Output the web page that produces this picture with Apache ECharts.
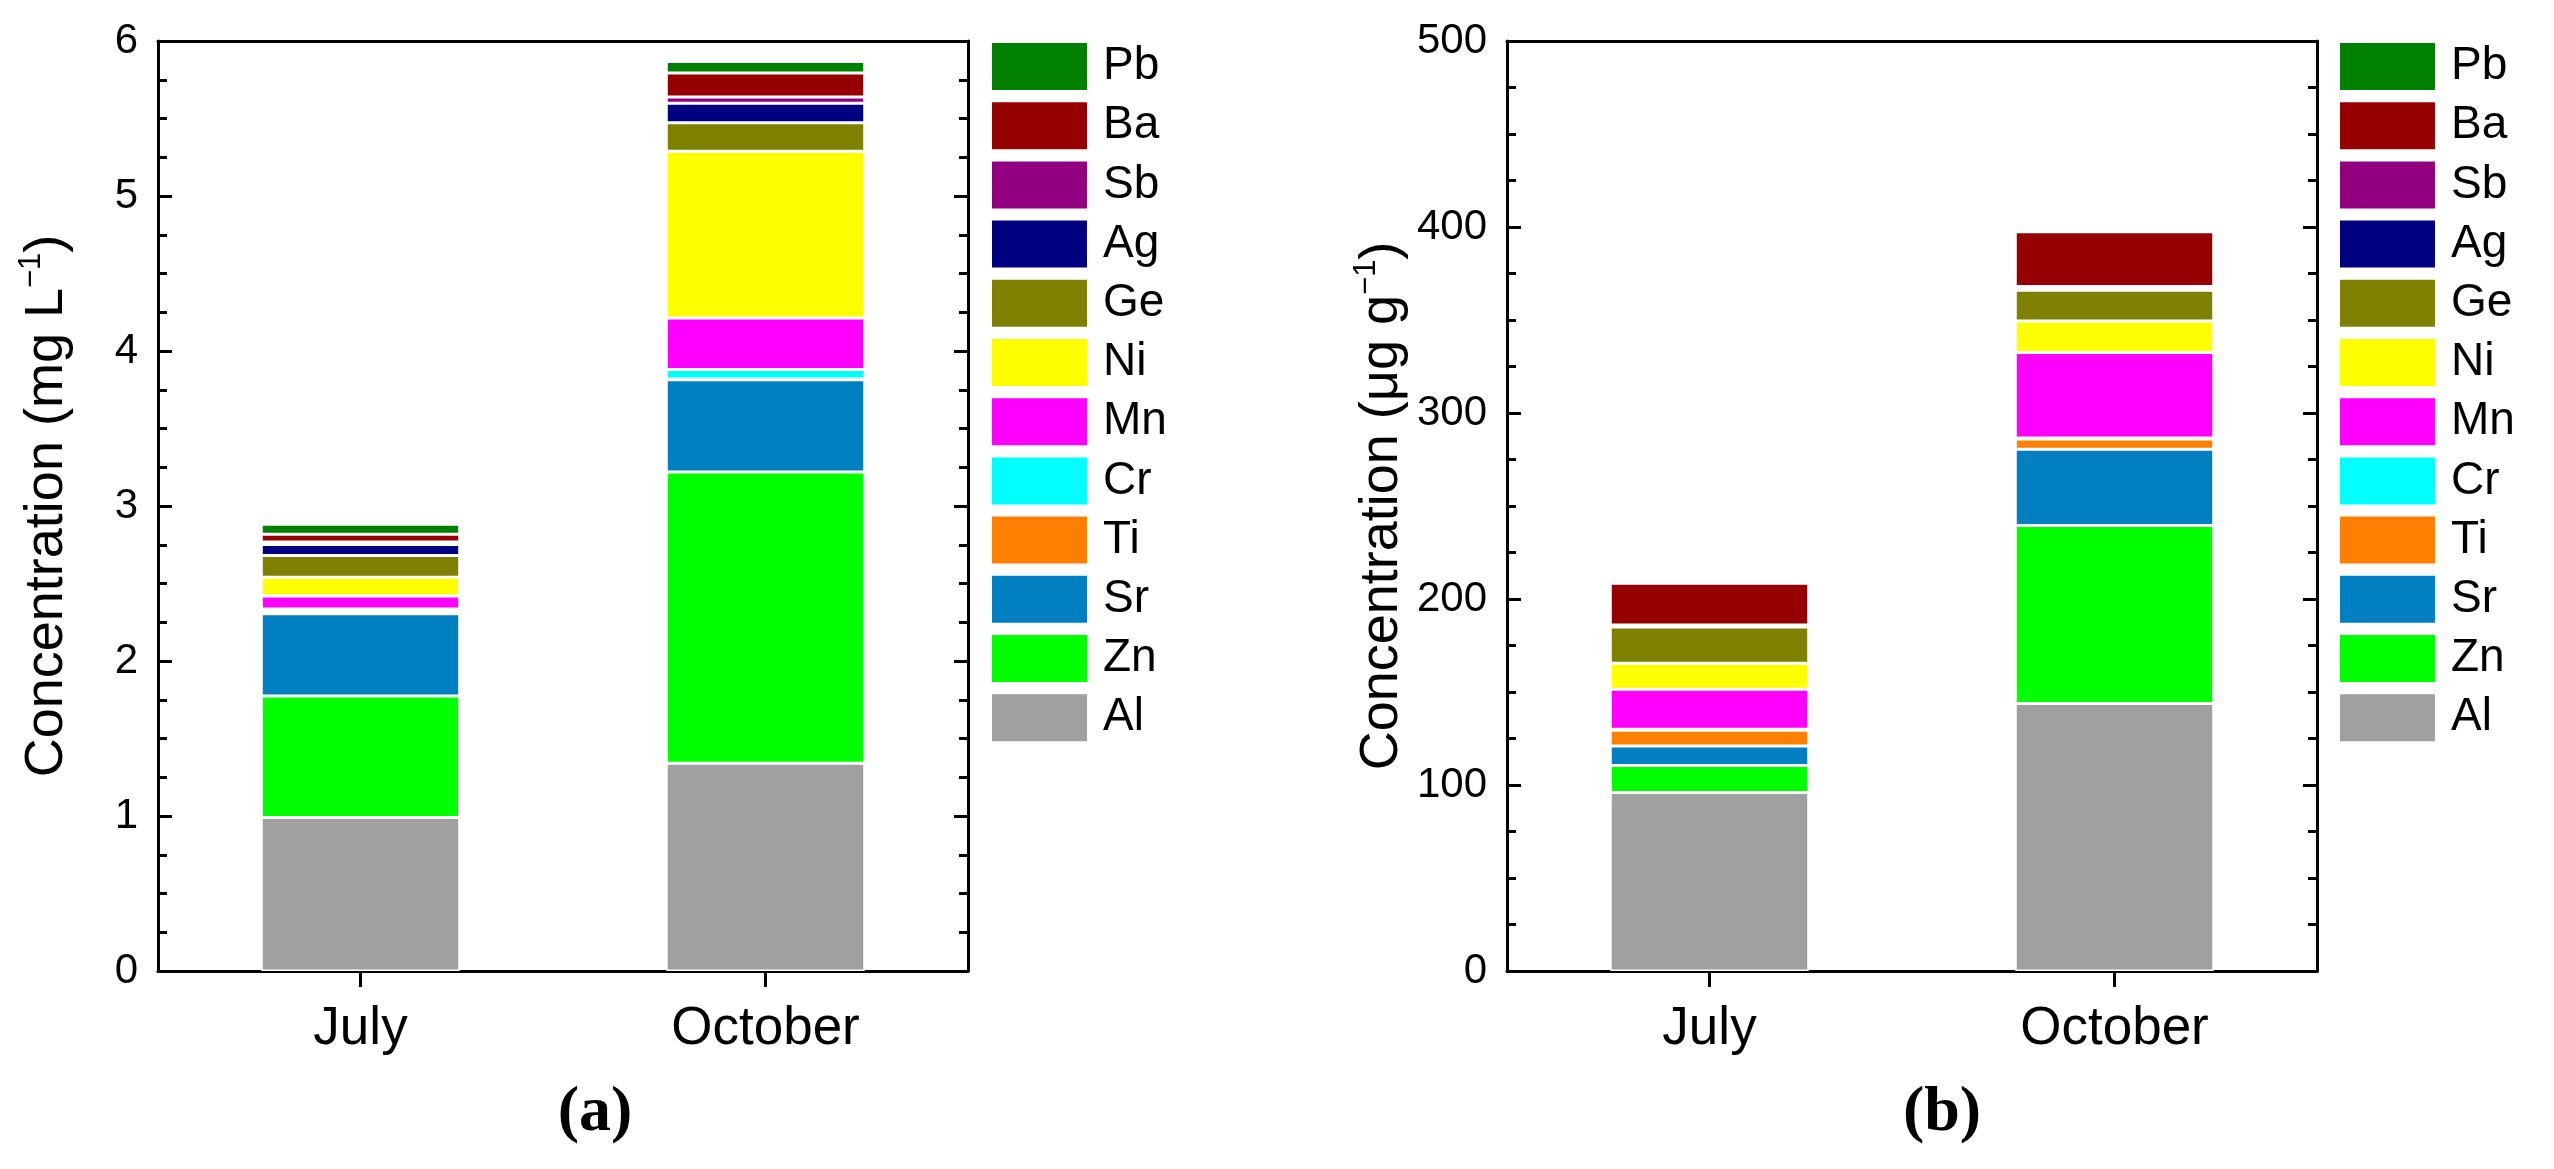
<!DOCTYPE html>
<html>
<head>
<meta charset="utf-8">
<script src="https://cdn.jsdelivr.net/npm/echarts@6/dist/echarts.min.js"></script>
<style>
html,body{margin:0;padding:0;background:#fff;}
#chart{width:2554px;height:1169px;}
</style>
</head>
<body>
<div id="chart"></div>
<script>
// ---- data ----
const months = ['July', 'October'];
const elements = ['Al', 'Zn', 'Sr', 'Ti', 'Cr', 'Mn', 'Ni', 'Ge', 'Ag', 'Sb', 'Ba', 'Pb'];
const elementColors = ['#a0a0a0', '#00ff00', '#0080c0', '#ff8000', '#00ffff', '#ff00ff', '#ffff00', '#808000', '#000080', '#920080', '#950000', '#008000'];
// (a) concentration in mg L-1
const waterJuly    = [0.99, 0.785, 0.53, 0.015, 0.015, 0.085, 0.12, 0.14, 0.072, 0.015, 0.05, 0.065];
const waterOctober = [1.34, 1.88, 0.595, 0.005, 0.06, 0.333, 1.075, 0.185, 0.125, 0.04, 0.155, 0.075];
// (b) concentration in ug g-1
const sedJuly      = [96, 14.5, 10.5, 8.5, 0.5, 21.5, 14, 19.5, 0.5, 0.5, 22.5, 1.5];
const sedOctober   = [143.8, 95.7, 41, 5.5, 0.5, 46, 17, 16.5, 1, 1, 29.5, 0.3];
const yTicksA = {min: 0, max: 6, interval: 1};
const yTicksB = {min: 0, max: 500, interval: 100};

// ---- chart ----
const FONT = 'Liberation Sans, Arial, sans-serif';
const chart = echarts.init(document.getElementById('chart'));

function panelSeries(july, october, idx, stack) {
  return elements.map((el, i) => ({
    name: el,
    type: 'bar',
    stack: stack,
    xAxisIndex: idx * 2,
    yAxisIndex: idx * 2,
    barWidth: '49%',
    itemStyle: {color: elementColors[i], borderColor: '#ffffff', borderWidth: 1.5},
    emphasis: {disabled: true},
    data: [july[i], october[i]]
  }));
}

function xAxes(gridIndex) {
  return [
    {
      type: 'category', gridIndex: gridIndex, data: months, position: 'bottom',
      axisLine: {show: true, onZero: false, lineStyle: {color: '#000', width: 3}},
      axisTick: {show: true, alignWithLabel: true, inside: false, length: 16, lineStyle: {width: 3, color: '#000'}},
      axisLabel: {color: '#000', fontSize: 53, fontFamily: FONT, margin: 32},
      splitLine: {show: false}
    },
    {
      type: 'category', gridIndex: gridIndex, data: months, position: 'top',
      axisLine: {show: true, onZero: false, lineStyle: {color: '#000', width: 3}},
      axisTick: {show: false}, axisLabel: {show: false}, splitLine: {show: false}
    }
  ];
}

function yAxes(gridIndex, ticks, nameRich) {
  const common = {
    type: 'value', gridIndex: gridIndex,
    min: ticks.min, max: ticks.max, interval: ticks.interval,
    axisLine: {show: true, onZero: false, lineStyle: {color: '#000', width: 3}},
    axisTick: {show: true, inside: true, length: 14, lineStyle: {width: 3, color: '#000'}},
    minorTick: {show: true, splitNumber: 4, length: 9, lineStyle: {width: 3, color: '#000'}},
    splitLine: {show: false}
  };
  return [
    Object.assign({}, common, {
      position: 'left',
      axisLabel: {color: '#000', fontSize: 42, fontFamily: FONT, margin: 20},
      name: nameRich,
      nameLocation: 'middle',
      nameGap: 80,
      nameTextStyle: {
        color: '#000', fontSize: 54, fontFamily: FONT, lineHeight: 62,
        rich: {sup: {fontSize: 31, lineHeight: 31, verticalAlign: 'top', fontFamily: FONT, color: '#000'}}
      }
    }),
    Object.assign({}, common, {position: 'right', axisLabel: {show: false}})
  ];
}

function legend(left) {
  return {
    orient: 'vertical', left: left, top: 41, padding: 0,
    itemWidth: 97, itemHeight: 49, itemGap: 8.2,
    icon: 'rect',
    data: elements.slice().reverse(),
    textStyle: {color: '#000', fontSize: 46, lineHeight: 49, fontFamily: FONT, padding: [0, 0, 0, 10]},
    selectedMode: false
  };
}

const captionStyle = {fontSize: 64, fontWeight: 'bold', fontFamily: 'Liberation Serif, Times New Roman, serif', fill: '#000', textAlign: 'center', textVerticalAlign: 'middle'};

const option = {
  animation: false,
  backgroundColor: '#fff',
  grid: [
    {left: 158, top: 41, width: 810, height: 930},
    {left: 1507, top: 41, width: 810, height: 930}
  ],
  xAxis: xAxes(0).concat(xAxes(1)),
  yAxis: yAxes(0, yTicksA, 'Concentration (mg L{sup|\u22121})').concat(yAxes(1, yTicksB, 'Concentration (\u03bcg g{sup|\u22121})')),
  legend: [legend(990), legend(2338)],
  series: panelSeries(waterJuly, waterOctober, 0, 'a').concat(panelSeries(sedJuly, sedOctober, 1, 'b')),
  graphic: [
    {type: 'text', x: 595, y: 1113, style: Object.assign({text: '(a)'}, captionStyle)},
    {type: 'text', x: 1942, y: 1113, style: Object.assign({text: '(b)'}, captionStyle)}
  ]
};
chart.setOption(option);
</script>
</body>
</html>
